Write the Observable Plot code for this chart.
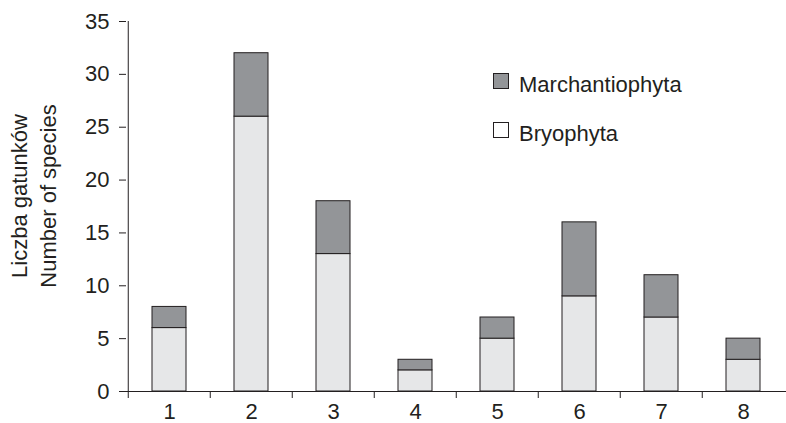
<!DOCTYPE html>
<html>
<head>
<meta charset="utf-8">
<script src="https://cdn.jsdelivr.net/npm/d3@7"></script>
<script src="https://cdn.jsdelivr.net/npm/@observablehq/plot@0.6"></script>
<style>
  html, body { margin: 0; padding: 0; background: #fff; }
  #wrap { position: relative; width: 786px; height: 423px; overflow: hidden; font-family: 'Liberation Sans', Arial, sans-serif; color: #231f20; }
  .lg-box { position: absolute; width: 14px; height: 14px; border: 1px solid #231f20; box-sizing: content-box; }
  .lg-text { position: absolute; font-size: 22px; line-height: 22px; white-space: nowrap; }
  .ytitle { position: absolute; font-size: 22px; line-height: 22px; white-space: nowrap; transform: translate(-50%, -50%) rotate(-90deg); }
</style>
</head>
<body>
<div id="wrap"></div>
<script>
const categories = ["1", "2", "3", "4", "5", "6", "7", "8"];
const bryophyta = [6, 26, 13, 2, 5, 9, 7, 3];
const marchantiophyta = [2, 6, 5, 1, 2, 7, 4, 2];
const series = ["Bryophyta", "Marchantiophyta"];
const seriesColors = ["#e6e7e8", "#939598"];
const yTicks = [0, 5, 10, 15, 20, 25, 30, 35];
const yTitleLines = ["Liczba gatunków", "Number of species"];
const legendOrder = ["Marchantiophyta", "Bryophyta"];

const rows = [];
categories.forEach((c, i) => rows.push({cat: c, series: series[0], value: bryophyta[i]}));
categories.forEach((c, i) => rows.push({cat: c, series: series[1], value: marchantiophyta[i]}));

const W = 786, H = 423, mL = 126, mR = 0, mT = 21, mB = 32;
const step = (W - mL - mR) / categories.length;
const ink = "#231f20";

const chart = Plot.plot({
  width: W, height: H,
  marginLeft: mL, marginRight: mR, marginTop: mT, marginBottom: mB,
  style: {fontFamily: "'Liberation Sans', Arial, sans-serif", fontSize: "22px", color: ink, background: "white"},
  x: {type: "band", domain: categories, paddingInner: 0.59, paddingOuter: 0.295, axis: null},
  y: {domain: [0, 35], axis: null},
  color: {domain: series, range: seriesColors},
  marks: [
    Plot.barY(rows, {x: "cat", y: "value", fill: "series", stroke: ink, strokeWidth: 1}),
    Plot.axisY({ticks: yTicks, tickSize: 7, tickPadding: 10, label: null, stroke: ink, fill: ink}),
    Plot.axisX({tickSize: 0, tickPadding: 12, label: null, fill: ink}),
    Plot.axisX({tickSize: 7, tickFormat: () => "", dx: -step / 2, label: null, stroke: ink}),
    Plot.ruleY([0], {stroke: ink}),
    Plot.ruleX([categories[0]], {dx: -step / 2, stroke: ink})
  ]
});

const wrap = document.getElementById("wrap");
wrap.appendChild(chart);

// y-axis title (two lines, rotated)
[20, 49].forEach((cx, i) => {
  const t = document.createElement("div");
  t.className = "ytitle";
  t.style.left = cx + "px";
  t.style.top = "196px";
  t.textContent = yTitleLines[i];
  wrap.appendChild(t);
});

// legend
const legendColor = {Marchantiophyta: "#939598", Bryophyta: "#ffffff"};
legendOrder.forEach((name, i) => {
  const top = 73 + i * 49;
  const box = document.createElement("div");
  box.className = "lg-box";
  box.style.left = "493px";
  box.style.top = top + "px";
  box.style.background = legendColor[name];
  wrap.appendChild(box);
  const t = document.createElement("div");
  t.className = "lg-text";
  t.style.left = "519px";
  t.style.top = (top + 0.5) + "px";
  t.textContent = name;
  wrap.appendChild(t);
});
</script>
</body>
</html>
